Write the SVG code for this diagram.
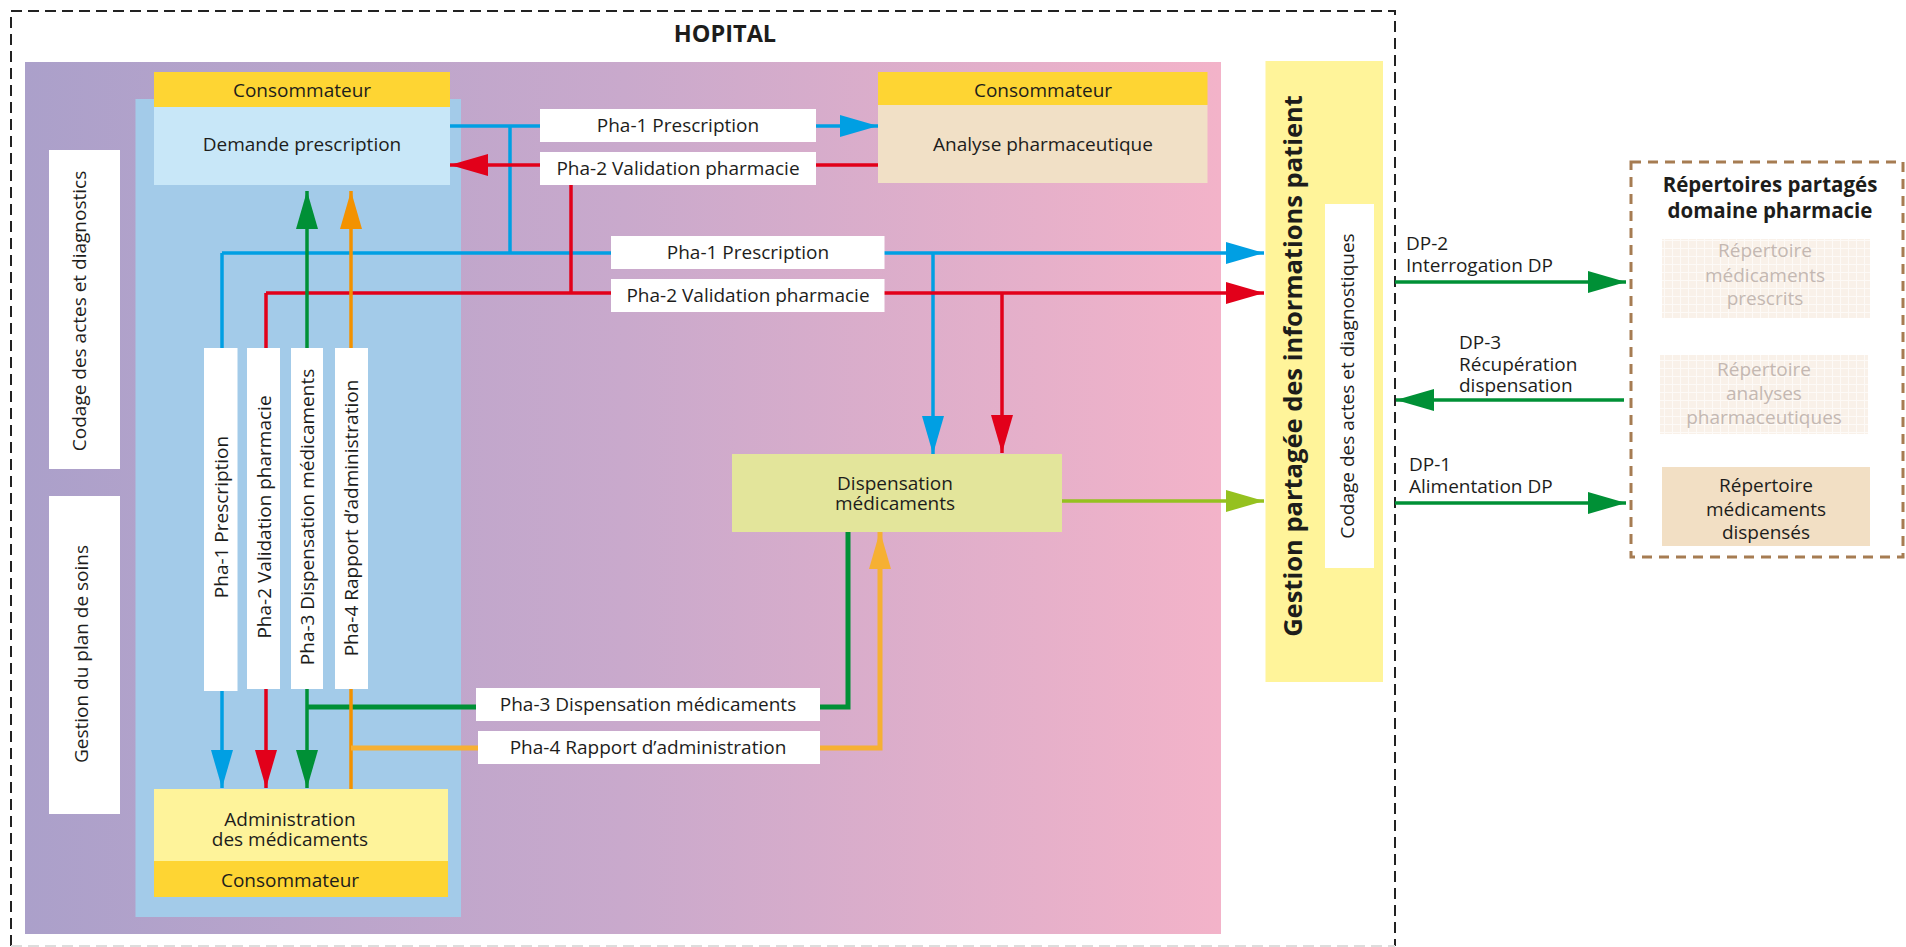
<svg xmlns="http://www.w3.org/2000/svg" width="1906" height="947" viewBox="0 0 1906 947">
<defs>
<linearGradient id="bgGrad" x1="25" y1="0" x2="1221" y2="0" gradientUnits="userSpaceOnUse">
<stop offset="0" stop-color="#aba0ca"/>
<stop offset="0.5" stop-color="#c9a9cc"/>
<stop offset="1" stop-color="#f3b3c9"/>
</linearGradient>
<pattern id="grid" width="8" height="8" patternUnits="userSpaceOnUse">
<rect width="8" height="8" fill="#f9f1e9"/>
<path d="M0,0.5 H8 M0.5,0 V8" stroke="#fdfaf7" stroke-width="1"/>
</pattern>
<marker id="aBlue" markerUnits="userSpaceOnUse" markerWidth="38" markerHeight="22" refX="38" refY="11" orient="auto"><path d="M0,0 L38,11 L0,22 Z" fill="#009fe3"/></marker>
<marker id="aRed" markerUnits="userSpaceOnUse" markerWidth="38" markerHeight="22" refX="38" refY="11" orient="auto"><path d="M0,0 L38,11 L0,22 Z" fill="#e2001a"/></marker>
<marker id="aGreen" markerUnits="userSpaceOnUse" markerWidth="38" markerHeight="22" refX="38" refY="11" orient="auto"><path d="M0,0 L38,11 L0,22 Z" fill="#009036"/></marker>
<marker id="aOrange" markerUnits="userSpaceOnUse" markerWidth="38" markerHeight="22" refX="38" refY="11" orient="auto"><path d="M0,0 L38,11 L0,22 Z" fill="#f39200"/></marker>
<marker id="aOrange2" markerUnits="userSpaceOnUse" markerWidth="38" markerHeight="22" refX="38" refY="11" orient="auto"><path d="M0,0 L38,11 L0,22 Z" fill="#f6b033"/></marker>
<marker id="aOlive" markerUnits="userSpaceOnUse" markerWidth="38" markerHeight="22" refX="38" refY="11" orient="auto"><path d="M0,0 L38,11 L0,22 Z" fill="#95c11f"/></marker>
</defs>
<style>
text { font-family: "Open Sans", "Liberation Sans", sans-serif; font-size: 19px; fill: #1d1d1b; }
.b { font-weight: 700; }
.c { text-anchor: middle; }
.faint { fill: #c4b8b2; }
.wbox { fill: #ffffff; }
.hdr { fill: #fed533; }
.ln { fill: none; stroke-width: 3.5; }
.thick { stroke-width: 5; }
.blue { stroke: #009fe3; }
.red { stroke: #e2001a; }
.green { stroke: #009036; }
.orange { stroke: #f39200; }
.orange2 { stroke: #f6b033; }
.olive { stroke: #95c11f; }
</style>

<rect width="1906" height="947" fill="#ffffff"/>

<g id="hopital">
<path d="M11,946 V11 H1395 V946" fill="none" stroke="#222" stroke-width="2" stroke-dasharray="11,6"/>
<path d="M11,946 H1395" fill="none" stroke="#dddddd" stroke-width="2" stroke-dasharray="11,6"/>
<text x="725" y="42" class="b c" style="font-size:23.5px">HOPITAL</text>
<rect x="25" y="62" width="1196" height="872" fill="url(#bgGrad)"/>
</g>

<g id="codage-actes-gauche">
<rect x="49" y="150" width="71" height="319" class="wbox"/>
<text transform="translate(86,311) rotate(-90)" class="c">Codage des actes et diagnostics</text>
</g>
<g id="gestion-plan-soins">
<rect x="49" y="496" width="71" height="318" class="wbox"/>
<text transform="translate(88,654) rotate(-90)" class="c">Gestion du plan de soins</text>
</g>

<g id="zone-soins">
<rect x="135.5" y="99" width="325.5" height="818" fill="#a3cbe9"/>
</g>

<g id="gestion-partagee">
<rect x="1265.5" y="61" width="117.5" height="621" fill="#fff49a"/>
<text transform="translate(1302,366) rotate(-90)" class="b c" style="font-size:25.5px">Gestion  partagée des informations patient</text>
<rect x="1325" y="204" width="49" height="364" class="wbox"/>
<text transform="translate(1354,386) rotate(-90)" class="c">Codage des actes et diagnostiques</text>
</g>

<g id="connectors">
<path class="ln blue" d="M450,126 H878" marker-end="url(#aBlue)"/>
<path class="ln blue" d="M510,126 V253"/>
<path class="ln blue" d="M222,253 V788" marker-end="url(#aBlue)"/>
<path class="ln blue" d="M222,253 H1264" marker-end="url(#aBlue)"/>
<path class="ln blue" d="M933,253 V454" marker-end="url(#aBlue)"/>
<path class="ln red" d="M878,165 H450" marker-end="url(#aRed)"/>
<path class="ln red" d="M571,185 V293"/>
<path class="ln red" d="M266,293 V788" marker-end="url(#aRed)"/>
<path class="ln red" d="M266,293 H1264" marker-end="url(#aRed)"/>
<path class="ln red" d="M1002,293 V453" marker-end="url(#aRed)"/>
<path class="ln green" d="M307,707 V191" marker-end="url(#aGreen)"/>
<path class="ln green" d="M307,707 V788" marker-end="url(#aGreen)"/>
<path class="ln green thick" d="M307,707 H848 V532"/>
<path class="ln orange" d="M351,789 V191" marker-end="url(#aOrange)"/>
<path class="ln orange2 thick" d="M351,748 H880 V531" marker-end="url(#aOrange2)"/>
<path class="ln olive" d="M1062,501 H1264" marker-end="url(#aOlive)"/>
<path class="ln green" d="M1395,282 H1626" marker-end="url(#aGreen)"/>
<path class="ln green" d="M1624,400 H1396" marker-end="url(#aGreen)"/>
<path class="ln green" d="M1395,503 H1626" marker-end="url(#aGreen)"/>
</g>

<g id="demande-prescription">
<rect x="154" y="72" width="296" height="35" class="hdr"/>
<text x="302" y="97" class="c">Consommateur</text>
<rect x="154" y="107" width="296" height="78" fill="#c8e7f8"/>
<text x="302" y="151" class="c">Demande prescription</text>
</g>

<g id="analyse-pharmaceutique">
<rect x="878" y="72" width="329.5" height="33" class="hdr"/>
<text x="1043" y="97" class="c">Consommateur</text>
<rect x="878" y="105" width="329.5" height="78" fill="#f1e0c6"/>
<text x="1043" y="151" class="c">Analyse pharmaceutique</text>
</g>

<g id="administration-medicaments">
<rect x="154" y="789" width="294" height="72" fill="#fef39a"/>
<text x="290" y="826" class="c">Administration</text>
<text x="290" y="846" class="c">des médicaments</text>
<rect x="154" y="861" width="294" height="36" class="hdr"/>
<text x="290" y="887" class="c">Consommateur</text>
</g>

<g id="dispensation-medicaments">
<rect x="732" y="454" width="330" height="78" fill="#e3e59b"/>
<text x="895" y="490" class="c">Dispensation</text>
<text x="895" y="510" class="c">médicaments</text>
</g>

<g id="labels">
<g id="lbl-pha1-haut"><rect x="540" y="109" width="276" height="33" class="wbox"/><text x="678" y="132" class="c">Pha-1 Prescription</text></g>
<g id="lbl-pha2-haut"><rect x="540" y="152" width="276" height="33" class="wbox"/><text x="678" y="175" class="c">Pha-2 Validation pharmacie</text></g>
<g id="lbl-pha1-milieu"><rect x="611" y="236" width="273.5" height="33" class="wbox"/><text x="748" y="259" class="c">Pha-1 Prescription</text></g>
<g id="lbl-pha2-milieu"><rect x="611" y="279" width="273.5" height="33" class="wbox"/><text x="748" y="302" class="c">Pha-2 Validation pharmacie</text></g>
<g id="lbl-pha3-bas"><rect x="476" y="688" width="344" height="33" class="wbox"/><text x="648" y="711" class="c">Pha-3 Dispensation médicaments</text></g>
<g id="lbl-pha4-bas"><rect x="478" y="731" width="342" height="33" class="wbox"/><text x="648" y="754" class="c">Pha-4 Rapport d’administration</text></g>
<g id="lbl-pha1-vert"><rect x="204" y="348" width="33.5" height="343" class="wbox"/><text transform="translate(228,517) rotate(-90)" class="c">Pha-1 Prescription</text></g>
<g id="lbl-pha2-vert"><rect x="247" y="348" width="33" height="341" class="wbox"/><text transform="translate(271,517) rotate(-90)" class="c">Pha-2 Validation pharmacie</text></g>
<g id="lbl-pha3-vert"><rect x="291" y="348" width="32" height="341" class="wbox"/><text transform="translate(314,517) rotate(-90)" class="c">Pha-3 Dispensation médicaments</text></g>
<g id="lbl-pha4-vert"><rect x="335" y="348" width="33" height="341" class="wbox"/><text transform="translate(358,518) rotate(-90)" class="c">Pha-4 Rapport d’administration</text></g>
<g id="lbl-dp2"><text x="1406" y="250">DP-2</text><text x="1406" y="272">Interrogation DP</text></g>
<g id="lbl-dp3"><text x="1459" y="349">DP-3</text><text x="1459" y="371">Récupération</text><text x="1459" y="392">dispensation</text></g>
<g id="lbl-dp1"><text x="1409" y="471">DP-1</text><text x="1409" y="493">Alimentation DP</text></g>
</g>

<g id="repertoires-partages">
<rect x="1631" y="162" width="272" height="395" fill="none" stroke="#a67c52" stroke-width="3" stroke-dasharray="10,7"/>
<text x="1770" y="192" class="b c" style="font-size:20.5px">Répertoires partagés</text>
<text x="1770" y="218" class="b c" style="font-size:20.5px">domaine pharmacie</text>
</g>
<g id="rep-medicaments-prescrits">
<rect x="1662" y="239" width="208" height="79" fill="url(#grid)"/>
<text x="1765" y="257" class="c faint">Répertoire</text>
<text x="1765" y="282" class="c faint">médicaments</text>
<text x="1765" y="305" class="c faint">prescrits</text>
</g>
<g id="rep-analyses-pharmaceutiques">
<rect x="1660" y="355" width="208" height="79" fill="url(#grid)"/>
<text x="1764" y="376" class="c faint">Répertoire</text>
<text x="1764" y="400" class="c faint">analyses</text>
<text x="1764" y="424" class="c faint">pharmaceutiques</text>
</g>
<g id="rep-medicaments-dispenses">
<rect x="1662" y="467" width="208" height="79" fill="#f2dfc4"/>
<text x="1766" y="492" class="c">Répertoire</text>
<text x="1766" y="516" class="c">médicaments</text>
<text x="1766" y="539" class="c">dispensés</text>
</g>
</svg>
